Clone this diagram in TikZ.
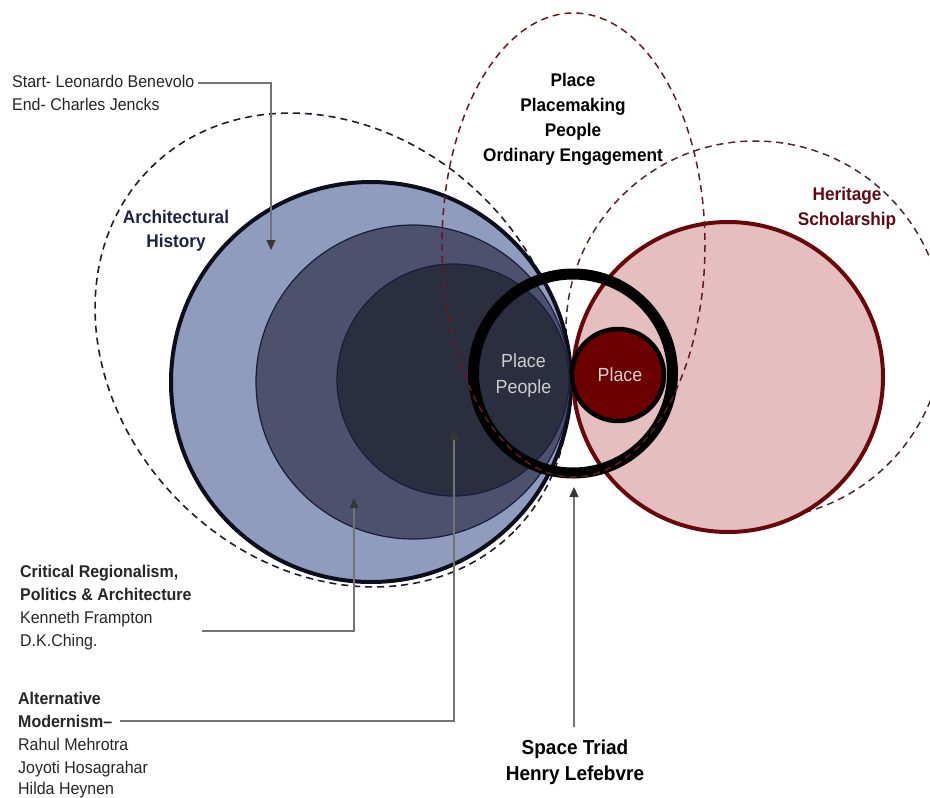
\documentclass[tikz,border=0pt]{standalone}
\usepackage{fontspec}
\setmainfont{Liberation Sans}[FakeStretch=0.94]
\usetikzlibrary{arrows.meta}

% fills and strokes
\definecolor{blueA}{RGB}{143,156,189}
\definecolor{blueB}{RGB}{77,81,110}
\definecolor{blueC}{RGB}{43,46,63}
\definecolor{navyline}{RGB}{12,14,28}
\definecolor{navythin}{RGB}{22,30,60}
\definecolor{pinkfill}{RGB}{229,190,192}
\definecolor{maroonline}{RGB}{104,8,10}
\definecolor{placered}{RGB}{108,0,0}
\definecolor{dashblk}{RGB}{30,30,42}
\definecolor{dashred}{RGB}{100,26,32}
\definecolor{dashbrn}{RGB}{78,40,42}
% text and connectors
\definecolor{navytext}{RGB}{30,32,70}
\definecolor{herittext}{RGB}{96,10,22}
\definecolor{softgray}{RGB}{205,205,205}
\definecolor{txt}{RGB}{38,38,38}
\definecolor{connclr}{RGB}{115,115,115}
\definecolor{arrowclr}{RGB}{55,55,55}

\begin{document}
\begin{tikzpicture}[x=1pt, y=-1pt,
  dashblack/.style={draw=dashblk, line width=1.6pt, dash pattern=on 7pt off 5pt},
  dashmaroon/.style={draw=dashred, line width=1.5pt, dash pattern=on 7pt off 5pt},
  dashbrown/.style={draw=dashbrn, line width=1.5pt, dash pattern=on 7pt off 5pt},
  regtxt/.style={font=\fontsize{17}{20}\selectfont, text=txt, inner sep=0pt},
  boldtxt/.style={font=\bfseries\fontsize{17}{20}\selectfont, text=txt, inner sep=0pt},
  headtxt/.style={font=\bfseries\fontsize{18.3}{22}\selectfont, text=black, inner sep=0pt},
  triadtxt/.style={font=\bfseries\fontsize{20.2}{24}\selectfont, text=black, inner sep=0pt},
  softtxt/.style={font=\fontsize{19}{22}\selectfont, text=softgray, inner sep=0pt},
  conn/.style={draw=connclr, line width=1.2pt,
    -{Triangle[length=10pt,width=9pt,color=arrowclr]}}
]
\clip (0,0) rectangle (930,798);
\fill[white] (0,0) rectangle (930,798);

% outer fields
\draw[dashblack, rotate around={-45:(332,350)}] (332,350) ellipse [x radius=257, y radius=215];
\draw[dashbrown] (755,330) circle [radius=189];

% architectural history rings
\filldraw[fill=blueA, draw=navyline, line width=4pt] (371,382) circle [radius=200];
\filldraw[fill=blueB, draw=navythin, line width=1.2pt] (413,382) circle [radius=157];
\filldraw[fill=blueC, draw=navythin, line width=1.2pt] (453,380) circle [radius=116];

% heritage scholarship
\filldraw[fill=pinkfill, draw=maroonline, line width=4pt] (728,377) circle [radius=155];

% space triad ring and place core
\draw[black, line width=11pt] (573,373.5) circle [radius=99.5];
\filldraw[fill=placered, draw=black, line width=4.5pt] (618,375) circle [radius=46];

% placemaking field
\draw[dashmaroon] (573.5,245) ellipse [x radius=131.5, y radius=232];

% labels
\node[regtxt, anchor=base west] (startA) at (12,87) {Start- Leonardo Benevolo};
\node[regtxt, anchor=base west] (startB) at (12,110) {End- Charles Jencks};

\node[headtxt, text=navytext, anchor=base] (archA) at (176,223) {Architectural};
\node[headtxt, text=navytext, anchor=base] (archB) at (176,247) {History};

\node[headtxt, anchor=base] (plA) at (573,86) {Place};
\node[headtxt, anchor=base] (plB) at (573,111) {Placemaking};
\node[headtxt, anchor=base] (plC) at (573,136) {People};
\node[headtxt, anchor=base] (plD) at (573,161) {Ordinary Engagement};

\node[headtxt, text=herittext, anchor=base] (herA) at (847,200) {Heritage};
\node[headtxt, text=herittext, anchor=base] (herB) at (847,225) {Scholarship};

\node[softtxt, anchor=base] (ringA) at (523.5,367) {Place};
\node[softtxt, anchor=base] (ringB) at (523.5,393) {People};
\node[softtxt, text=softgray!90!white, anchor=base] (coreA) at (620,381) {Place};

\node[boldtxt, anchor=base west] (critA) at (20,577) {Critical Regionalism,};
\node[boldtxt, anchor=base west] (critB) at (20,600) {Politics \& Architecture};
\node[regtxt, anchor=base west] (critC) at (20,623) {Kenneth Frampton};
\node[regtxt, anchor=base west] (critD) at (20,646) {D.K.Ching.};

\node[boldtxt, anchor=base west] (altA) at (18,704) {Alternative};
\node[boldtxt, anchor=base west] (altB) at (18,727) {Modernism\textendash};
\node[regtxt, anchor=base west] (altC) at (18,750) {Rahul Mehrotra};
\node[regtxt, anchor=base west] (altD) at (18,773) {Joyoti Hosagrahar};
\node[regtxt, anchor=base west] (altE) at (18,794) {Hilda Heynen};

\node[triadtxt, anchor=base] (triA) at (575,754) {Space Triad};
\node[triadtxt, anchor=base] (triB) at (575,780) {Henry Lefebvre};

% connectors
\coordinate (tipArch) at (271,250);
\coordinate (tipCrit) at (354,498);
\coordinate (tipAlt) at (454,430);
\coordinate (tipTriad) at (574,487);
\coordinate (fromCrit) at (202,631);
\coordinate (fromAlt) at (120,721);
\coordinate (fromTriad) at (574,727);

\draw[conn] ([shift={(3,-4)}]startA.base east) -| (tipArch);
\draw[conn] (fromCrit) -| (tipCrit);
\draw[conn] (fromAlt) -| (tipAlt);
\draw[conn] (fromTriad) -- (tipTriad);
\end{tikzpicture}
\end{document}
